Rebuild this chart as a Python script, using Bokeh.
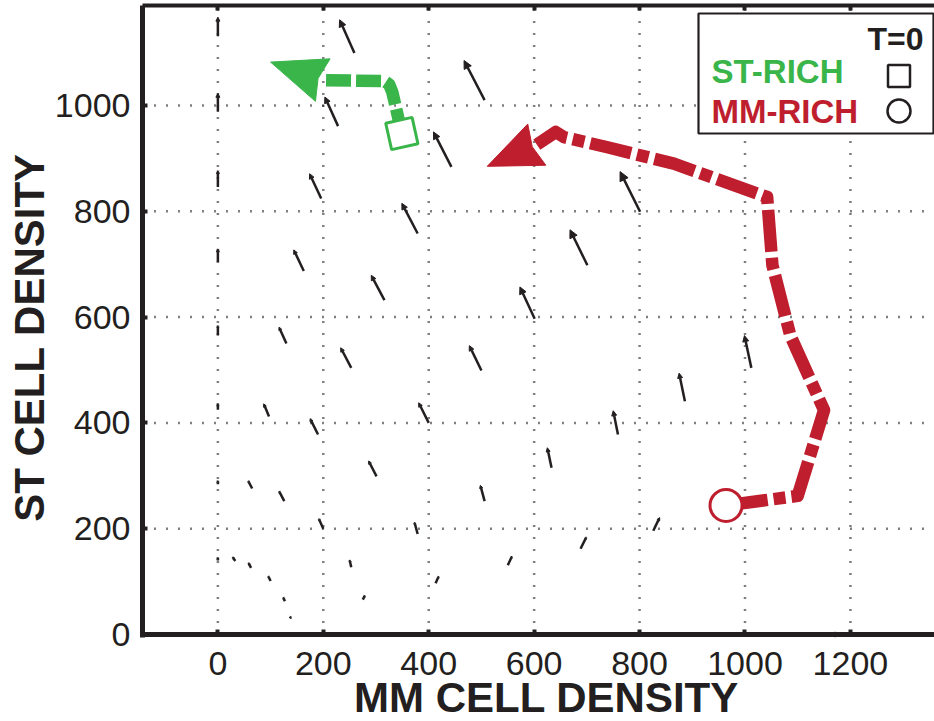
import numpy as np
from bokeh.plotting import figure
from bokeh.models import (Range1d, FixedTicker, LinearAxis, Arrow, NormalHead,
                          ColumnDataSource, Label, BoxAnnotation)
from bokeh.embed import file_html
from bokeh.resources import INLINE

# ---------------- data ----------------
X_TICKS = [0, 200, 400, 600, 800, 1000, 1200]
Y_TICKS = [0, 200, 400, 600, 800, 1000]

# vector field: tail positions (MM, ST) and components (dMM, dST)
Q_MM = [0, 33, 63, 100, 127, 138, 141,
        0, 65, 126, 200, 253, 275, 282,
        0, 97, 190, 301, 379, 413, 424,
        0, 130, 253, 400, 506, 550, 565,
        0, 163, 316, 500, 633, 688, 706,
        0, 196, 379, 601, 759, 826, 847,
        0, 228, 443, 701, 886, 961, 988,
        0, 259, 506, 801, 1012, 1099, 1130]
Q_ST = [140, 139, 126, 101, 63, 33, 0,
        284, 276, 252, 200, 127, 66, 0,
        425, 412, 378, 299, 190, 97, 0,
        565, 550, 504, 400, 252, 131, 0,
        704, 687, 632, 499, 315, 162, 0,
        846, 824, 758, 597, 378, 196, 0,
        988, 961, 884, 698, 441, 227, 0,
        1131, 1099, 1010, 799, 504, 260, 0]
Q_DMM = [0, -5, -5, -4.5, -3, 0.5, 2,
         0, -7.5, -10, -8.5, -3, 4, 9,
         0, -10, -15, -15, -6, 6, 15,
         0, -14, -20, -19, -8, 8, 20,
         0, -19, -25, -23, -8, 11, 28,
         0, -22, -30, -28, -9, 12, 34,
         0, -25, -34, -33, -11, 14, 42,
         0, -28, -39, -38, -13, 17, 50]
Q_DST = [6, 7.5, 9.5, 9.5, 7.5, 1.5, 0,
         7, 14.5, 19, 19, 14, 8, 0,
         12, 24, 30, 29, 22, 13, 0,
         19, 31, 38, 38, 30, 17, 0,
         25, 40, 47, 47, 38, 22, 0,
         31, 47, 57, 60, 45, 25, 0,
         35, 55, 66, 67, 53, 29, 0,
         36, 63, 75, 76, 61, 31, 0]

# trajectories (first point = T=0, last point = arrow tip)
GREEN_MM = [349, 331, 325, 316, 199, 100]
GREEN_ST = [947, 1025, 1040, 1046, 1048, 1082]
RED_MM = [964, 1100, 1150, 1086, 1052, 1042, 865, 739, 657, 641, 605, 511]
RED_ST = [244, 262, 424, 565, 698, 827, 890, 921, 940, 950, 926, 885]

LEGEND_TITLE = "T=0"
LEGEND_GREEN = "ST-RICH"
LEGEND_RED = "MM-RICH"
X_TITLE = "MM CELL DENSITY"
Y_TITLE = "ST CELL DENSITY"

# ---------------- styling / layout ----------------
W, H = 934, 721
# axes box in data units
X0, X1 = -143, 1359.5
Y0, Y1 = 0, 1189
# pixel positions of the axes box inside the canvas
BOX_L, BOX_R, BOX_T, BOX_B = 142, 934, 5, 634
KX = (BOX_R - BOX_L) / (X1 - X0)
KY = (BOX_B - BOX_T) / (Y1 - Y0)
# full-canvas ranges so that titles can be placed freely
XR0 = X0 - BOX_L / KX
XR1 = X1 + (W - BOX_R) / KX
YR0 = Y0 - (H - BOX_B) / KY
YR1 = Y1 + BOX_T / KY

INK = "#231F20"
GREEN = "#39B54A"
RED = "#BE1E2D"
FONT = "Liberation Sans"

p = figure(width=W, height=H, x_range=Range1d(XR0, XR1), y_range=Range1d(YR0, YR1),
           output_backend="svg", toolbar_location=None, min_border=0,
           outline_line_color=None, background_fill_color="white",
           border_fill_color="white")
p.xgrid.visible = False
p.ygrid.visible = False

xa = p.below[0]
ya = p.left[0]
xa.fixed_location = Y0
xa.bounds = (X0, X1)
ya.fixed_location = X0
ya.bounds = (Y0 - 2.5 / KY, Y1)
xa.ticker = FixedTicker(ticks=X_TICKS)
ya.ticker = FixedTicker(ticks=Y_TICKS)
for ax in (xa, ya):
    ax.axis_line_width = 5
    ax.axis_line_color = INK
    ax.major_tick_in = 5
    ax.major_tick_out = 0
    ax.major_tick_line_width = 4
    ax.major_tick_line_color = INK
    ax.minor_tick_line_color = None
    ax.major_label_text_font = FONT
    ax.major_label_text_font_size = "34px"
    ax.major_label_text_color = INK
xa.major_label_standoff = 17
ya.major_label_standoff = 12

top = LinearAxis(ticker=FixedTicker(ticks=X_TICKS), fixed_location=Y1, bounds=(X0, X1),
                 axis_line_width=4, axis_line_color=INK, major_tick_in=5,
                 major_tick_out=0, major_tick_line_width=4, major_tick_line_color=INK,
                 minor_tick_line_color=None, major_label_text_color=None)
p.add_layout(top, "above")

# dotted grid, bounded to the axes box
gx0 = [float(t) for t in X_TICKS]
p.segment(x0=gx0, y0=[Y0] * len(gx0), x1=gx0, y1=[Y1] * len(gx0), line_color="black",
          line_width=2.5, line_dash="1 11", level="underlay")
gy0 = [float(t) for t in Y_TICKS]
p.segment(x0=[X0] * len(gy0), y0=gy0, x1=[X1] * len(gy0), y1=gy0, line_color="black",
          line_width=2.5, line_dash="1 11", level="underlay")

# ---------------- vector field ----------------
qx = np.array(Q_MM, float)
qy = np.array(Q_ST, float)
qdx = np.array(Q_DMM, float)
qdy = np.array(Q_DST, float)
lens = np.hypot(qdx * KX, qdy * KY)
keep = lens > 0
hs = np.clip(np.round(lens * 0.19), 2, 9)
for s in np.unique(hs[keep]):
    m = keep & (hs == s)
    src = ColumnDataSource(dict(x0=qx[m], y0=qy[m], x1=qx[m] + qdx[m], y1=qy[m] + qdy[m]))
    p.add_layout(Arrow(x_start="x0", y_start="y0", x_end="x1", y_end="y1", source=src,
                       line_width=2.5, line_color=INK, line_cap="butt", level="underlay",
                       end=NormalHead(size=float(s), fill_color=INK, line_color=INK,
                                      line_width=1)))


# ---------------- trajectories ----------------
def head_patch(bx, by, tx, ty, half_w=22.5, notch=5):
    ux, uy = (tx - bx) * KX, (ty - by) * KY
    L = np.hypot(ux, uy)
    ux, uy = ux / L, uy / L
    nx, ny = -uy, ux
    xs = [bx + nx * half_w / KX, tx, bx - nx * half_w / KX, bx + ux * notch / KX]
    ys = [by + ny * half_w / KY, ty, by - ny * half_w / KY, by + uy * notch / KY]
    return xs, ys


p.line(GREEN_MM[:-1], GREEN_ST[:-1], line_width=12.5, color=GREEN, line_dash="25 5",
       line_cap="butt", line_join="round")
gx, gy = head_patch(GREEN_MM[-2], GREEN_ST[-2], GREEN_MM[-1], GREEN_ST[-1])
p.patch(gx, gy, fill_color=GREEN, line_color=GREEN, line_width=1)

p.line(RED_MM[:-1], RED_ST[:-1], line_width=12.5, color=RED, line_dash="42 6 12 6",
       line_cap="butt", line_join="round")
rx, ry = head_patch(RED_MM[-2], RED_ST[-2], RED_MM[-1], RED_ST[-1])
p.patch(rx, ry, fill_color=RED, line_color=RED, line_width=1)

p.scatter([GREEN_MM[0]], [GREEN_ST[0]], marker="square", size=27, angle=0.22,
          line_width=3, line_color=GREEN, fill_color="white")
p.scatter([RED_MM[0]], [RED_ST[0]], marker="circle", size=32,
          line_width=3, line_color=RED, fill_color="white")


# ---------------- legend & titles (screen units; frame == canvas) ----------------
def sx(px):
    return px


def sy(py):
    return H - py


def sbox(left, top_, right, bottom, **kw):
    return BoxAnnotation(left=sx(left), right=sx(right), top=sy(top_), bottom=sy(bottom),
                         left_units="screen", right_units="screen",
                         top_units="screen", bottom_units="screen",
                         fill_color="white", fill_alpha=1.0, line_color=INK,
                         line_alpha=1.0, **kw)


p.add_layout(sbox(698, 13, 933, 133, line_width=2.2))
p.add_layout(sbox(887.5, 64.5, 909.5, 86.5, line_width=2.5))
p.add_layout(sbox(887, 99, 910, 122, line_width=2.5, border_radius=12))

# Label baseline offset (rendered text sits ~0.36 em below the anchor)
lab = dict(x_units="screen", y_units="screen", text_font=FONT, text_font_style="bold",
           text_baseline="alphabetic")
p.add_layout(Label(x=sx(923), y=sy(49 - 11), text=LEGEND_TITLE, text_align="right",
                   text_color=INK, text_font_size="32px", **lab))
p.add_layout(Label(x=sx(711), y=sy(83 - 12), text=LEGEND_GREEN, text_align="left",
                   text_color=GREEN, text_font_size="33px", **lab))
p.add_layout(Label(x=sx(711), y=sy(123 - 12), text=LEGEND_RED, text_align="left",
                   text_color=RED, text_font_size="33px", **lab))

p.add_layout(Label(x=sx(546), y=sy(716 - 19), text=X_TITLE, text_align="center",
                   text_color=INK, text_font_size="42px", **lab))
p.add_layout(Label(x=sx(44 - 15), y=sy(337), text=Y_TITLE, text_align="center",
                   angle=np.pi / 2, text_color=INK, text_font_size="42px", **lab))

open("out.html", "w").write(file_html(p, INLINE))
